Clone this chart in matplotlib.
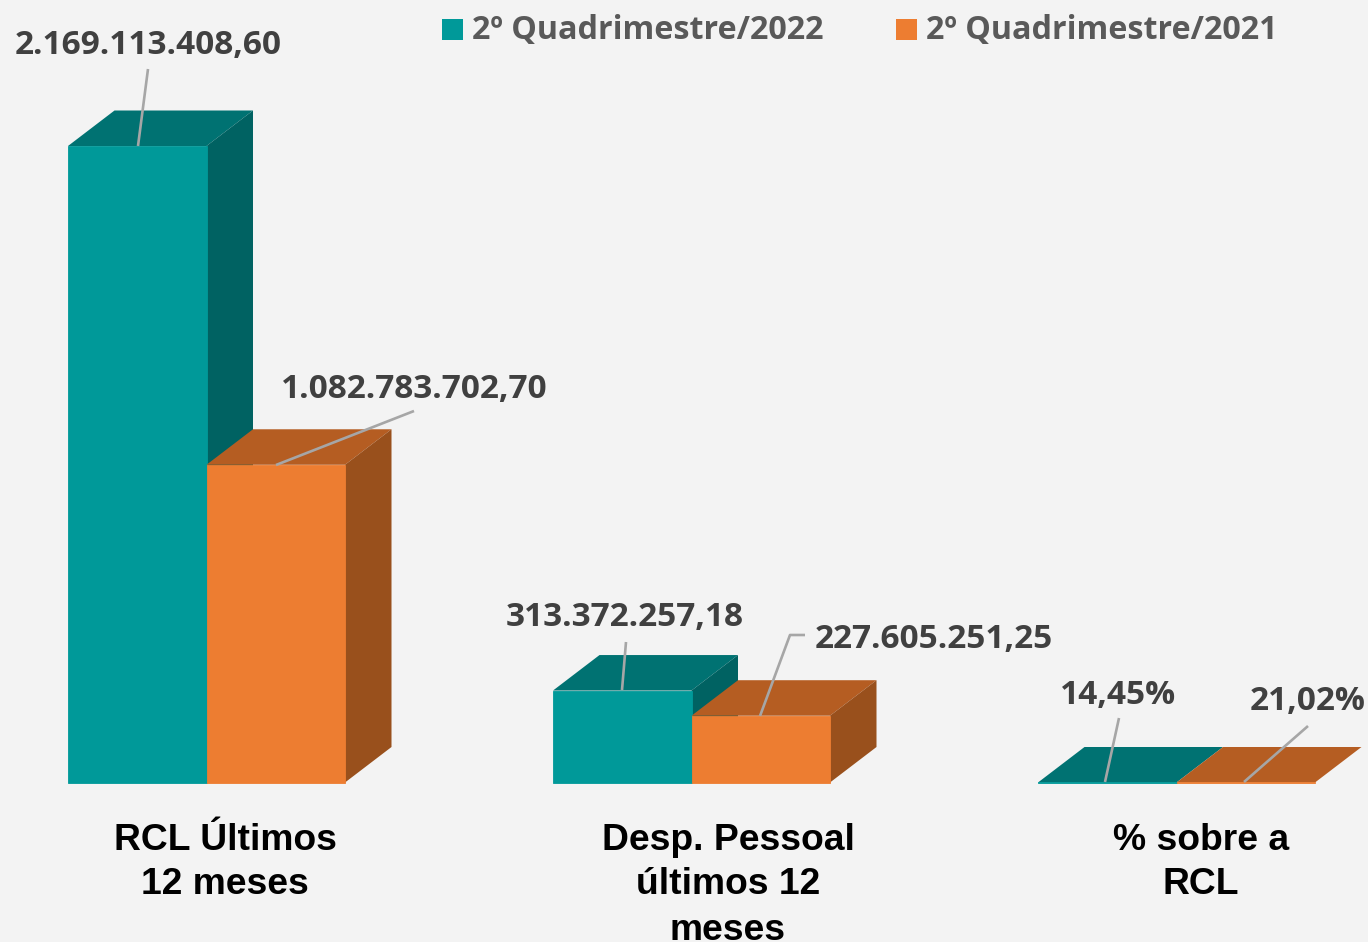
import numpy as np
import matplotlib
matplotlib.use('Agg')
import matplotlib.pyplot as plt
from matplotlib.patches import Polygon, Rectangle

# dados
categorias = ['RCL Últimos\n12 meses', 'Desp. Pessoal\núltimos 12\nmeses', '% sobre a\nRCL']
series = ['2º Quadrimestre/2022', '2º Quadrimestre/2021']
valores_2022 = [2169113408.60, 313372257.18, 14.45]
valores_2021 = [1082783702.70, 227605251.25, 21.02]
rotulos_2022 = ['2.169.113.408,60', '313.372.257,18', '14,45%']
rotulos_2021 = ['1.082.783.702,70', '227.605.251,25', '21,02%']

W, H = 1368, 942
BASE_X, BASE_Y = 206.5, 782.5   # pixel do grupo 0 na linha de base
PASSO = 485.0                   # px entre grupos
K = valores_2022[0] / 636.5     # valor por px

# cores: frente, topo, lado
TEAL = ('#009999', '#007272', '#006262')
LARANJA = ('#ED7D31', '#B55D22', '#99501C')
FUNDO = '#F3F3F3'

fig = plt.figure(figsize=(W / 100, H / 100), dpi=100, facecolor=FUNDO)
ax = fig.add_axes([0, 0, 1, 1])
ax.set_xlim(-BASE_X / PASSO, (W - BASE_X) / PASSO)
ax.set_ylim(-(H - BASE_Y) * K, BASE_Y * K)
ax.axis('off')

largura = 138.5 / PASSO
dx = 46.5 / PASSO   # profundidade
dy = 35.5 * K


def barra3d(x0, v, cores, z):
    # x0 = borda esquerda da frente
    x1 = x0 + largura
    ax.bar(x0, v, largura, align='edge', color=cores[0], edgecolor=cores[0],
           linewidth=0.6, zorder=z + 1)
    ax.add_patch(Polygon([(x0, v), (x1, v), (x1 + dx, v + dy), (x0 + dx, v + dy)],
                         closed=True, fc=cores[1], ec='none', zorder=z))
    ax.add_patch(Polygon([(x1, 0), (x1 + dx, dy), (x1 + dx, v + dy), (x1, v)],
                         closed=True, fc=cores[2], ec='none', zorder=z))


for i in range(3):
    barra3d(i - largura, valores_2022[i], TEAL, 2)
    barra3d(i, valores_2021[i], LARANJA, 4)

FONTE = ['Open Sans', 'DejaVu Sans']


def px(x, y):
    return (x / W, 1 - y / H)


# rotulos e linhas de chamada, em px: (inicio na barra, cotovelos...)
chamadas = [
    [(138, 146), (148, 69)],
    [(276, 465), (414, 411)],
    [(622, 690), (626, 642)],
    [(760, 716), (790, 635), (805, 635)],
    [(1105, 782), (1119, 718)],
    [(1244, 782), (1308, 726)],
]
for c in chamadas:
    xs, ys = zip(*[px(*p) for p in c])
    ax.plot(xs, ys, transform=fig.transFigure, color='#A6A6A6', lw=1.9, zorder=10,
            solid_capstyle='butt')

pos_rotulos = [(148, 45, 'center'), (414, 389, 'center'), (625, 618, 'center'),
               (815, 640, 'left'), (1118, 695, 'center'), (1308, 702, 'center')]
textos = [rotulos_2022[0], rotulos_2021[0], rotulos_2022[1], rotulos_2021[1],
          rotulos_2022[2], rotulos_2021[2]]
for (x, y, ha), t in zip(pos_rotulos, textos):
    fig.text(*px(x, y), t, ha=ha, va='center', family=FONTE, weight='bold',
             fontsize=24, color='#404040')

# eixo x
for i, c in enumerate(categorias):
    xc = [225, 728, 1201][i]
    for j, linha in enumerate(c.split('\n')):
        fig.text(*px(xc, 840 + 45 * j), linha, ha='center', va='center',
                 family='Liberation Sans', weight='bold', fontsize=26.8, color='black')

# legenda
for xq, xt, nome, cor in [(442, 472, series[0], TEAL[0]), (896, 926, series[1], LARANJA[0])]:
    x, y = px(xq, 40)
    fig.add_artist(Rectangle((x, y), 21 / W, 21 / H, transform=fig.transFigure,
                             fc=cor, ec='none'))
    fig.text(*px(xt, 31), nome, ha='left', va='center', family=FONTE, weight='bold',
             fontsize=23.2, color='#595959')

fig.savefig('out.png', dpi=100, facecolor=FUNDO)
